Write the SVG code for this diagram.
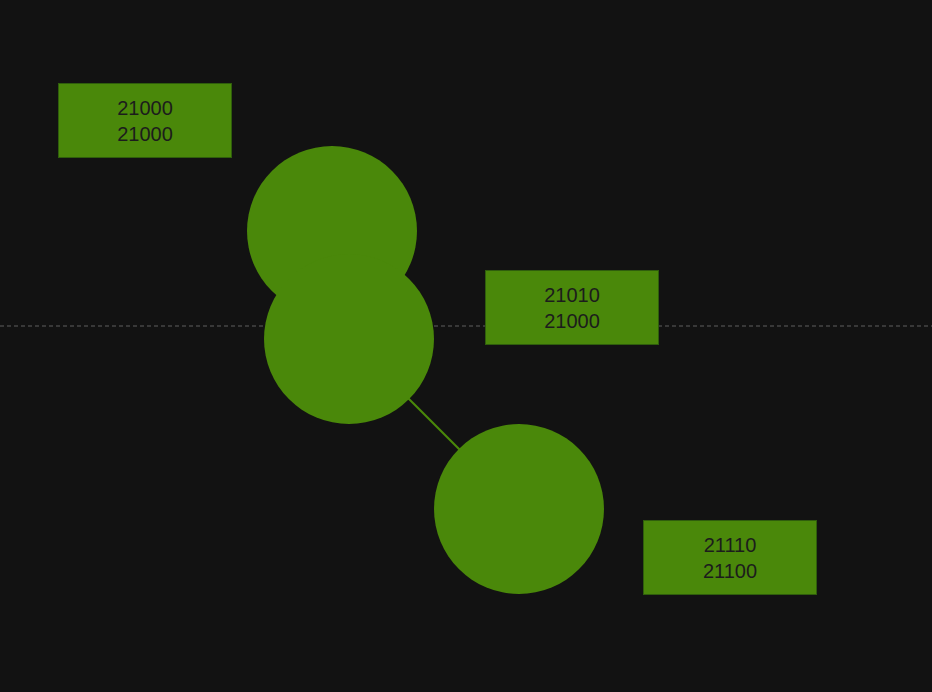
<svg xmlns="http://www.w3.org/2000/svg" width="932" height="692" viewBox="0 0 932 692">
<style>
.node{fill:#4a880a;stroke:none}
.box{fill:#4a880a;stroke:#2f5e0c;stroke-width:1}
.lbl{font-family:"Liberation Sans",Arial,sans-serif;font-size:20px;fill:#1c1c1c;text-anchor:middle}
.edge{stroke:#4a880a;stroke-width:2;fill:none}
</style>
<rect x="0" y="0" width="932" height="692" fill="#121212"/>
<line x1="0" y1="326" x2="932" y2="326" stroke="#5e5e5e" stroke-width="1" stroke-dasharray="4,3"/>
<g id="connectors">
<line class="edge" x1="349" y1="339" x2="519" y2="509"/>
</g>
<g id="node1"><circle class="node" cx="332" cy="231" r="85"/></g>
<g id="node2"><circle class="node" cx="349" cy="339" r="85"/></g>
<g id="node3"><circle class="node" cx="519" cy="509" r="85"/></g>
<g id="label1">
<rect class="box" x="58.5" y="83.5" width="173" height="74"/>
<text class="lbl" x="145" y="115">21000</text>
<text class="lbl" x="145" y="141">21000</text>
</g>
<g id="label2">
<rect class="box" x="485.5" y="270.5" width="173" height="74"/>
<text class="lbl" x="572" y="302">21010</text>
<text class="lbl" x="572" y="328">21000</text>
</g>
<g id="label3">
<rect class="box" x="643.5" y="520.5" width="173" height="74"/>
<text class="lbl" x="730" y="552">21110</text>
<text class="lbl" x="730" y="578">21100</text>
</g>
</svg>
